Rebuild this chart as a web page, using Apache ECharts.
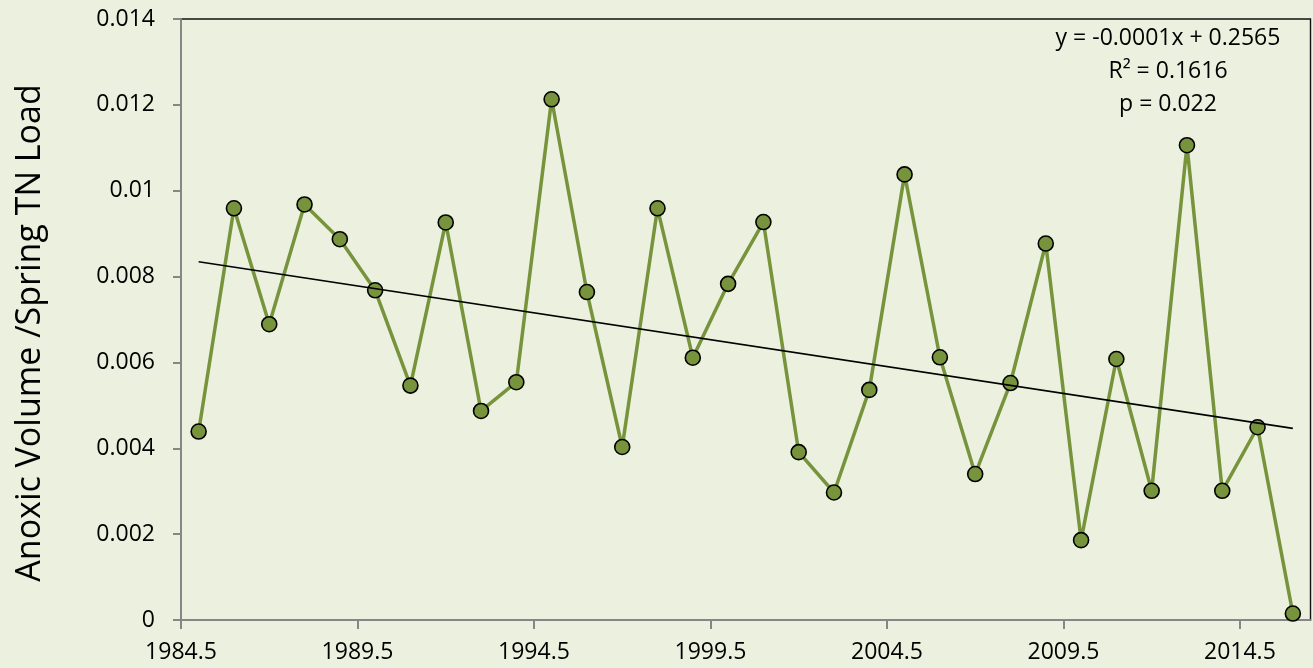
<!DOCTYPE html>
<html>
<head>
<meta charset="utf-8">
<title>Anoxic Volume / Spring TN Load</title>
<script src="https://cdn.jsdelivr.net/npm/echarts@6/dist/echarts.min.js"></script>
<style>
	html, body { margin: 0; padding: 0; background: #EBF1DE; }
	#main { width: 1313px; height: 668px; }
</style>
</head>
<body>
<div id="main"></div>
<script>
// data
var years = [1985, 1986, 1987, 1988, 1989, 1990, 1991, 1992, 1993, 1994,
	1995, 1996, 1997, 1998, 1999, 2000, 2001, 2002, 2003, 2004,
	2005, 2006, 2007, 2008, 2009, 2010, 2011, 2012, 2013, 2014,
	2015, 2016];
var ratio = [0.00439, 0.00959, 0.00689, 0.00968, 0.00887, 0.00768, 0.00546, 0.00926, 0.00487, 0.00554,
	0.01213, 0.00764, 0.00403, 0.00959, 0.00611, 0.00783, 0.00927, 0.00391, 0.00297, 0.00536,
	0.01038, 0.00612, 0.00340, 0.00552, 0.00877, 0.00186, 0.00608, 0.00301, 0.01106, 0.00301,
	0.00449, 0.00015];
var xRange = [1984.5, 2016.5]; // 坐标轴范围
var yRange = [0, 0.014];
var trendText = ['y = -0.0001x + 0.2565', 'R\u00b2 = 0.1616', 'p = 0.022'];

var font = 'Open Sans';

// 线性趋势线
var n = years.length, sx = 0, sy = 0, sxx = 0, sxy = 0;
for (var i = 0; i < n; i++) {
	sx += years[i];
	sy += ratio[i];
	sxx += years[i] * years[i];
	sxy += years[i] * ratio[i];
}
var slope = (n * sxy - sx * sy) / (n * sxx - sx * sx);
var icpt = (sy - slope * sx) / n;
var trendData = [
	[years[0], icpt + slope * years[0]],
	[years[n - 1], icpt + slope * years[n - 1]]
];

var pts = years.map(function(y, i) { return [y, ratio[i]]; });

var myChart = echarts.init(document.getElementById('main'));

var option = {
	backgroundColor: '#EBF1DE',
	animation: false,
	grid: {
		left: 181,
		top: 19,
		right: 2.5,
		bottom: 48,
		show: true,
		backgroundColor: 'transparent',
		borderColor: '#111',
		borderWidth: 1.4
	},
	xAxis: {
		type: 'value',
		min: xRange[0],
		max: xRange[1],
		interval: 5,
		splitLine: { show: false },
		axisLine: { lineStyle: { color: '#868686', width: 2 } },
		axisTick: { show: true, inside: false, length: 9, lineStyle: { color: '#868686', width: 2 } },
		axisLabel: {
			showMaxLabel: false,
			margin: 21,
			color: '#000',
			fontFamily: font,
			fontSize: 23,
			formatter: function(v) { return v.toFixed(1); }
		}
	},
	yAxis: {
		type: 'value',
		min: yRange[0],
		max: yRange[1],
		interval: 0.002,
		splitLine: { show: false },
		axisLine: { show: true, lineStyle: { color: '#868686', width: 2 } },
		axisTick: { show: true, inside: false, length: 8, lineStyle: { color: '#868686', width: 2 } },
		axisLabel: {
			margin: 26,
			color: '#000',
			fontFamily: font,
			fontSize: 23,
			formatter: function(v) { return v === 0 ? '0' : String(+v.toFixed(3)); }
		}
	},
	graphic: [{
		type: 'text',
		x: 30,
		y: 333,
		rotation: Math.PI / 2,
		style: {
			text: 'Anoxic Volume /Spring TN Load',
			fill: '#000',
			font: '34px "Open Sans"',
			textAlign: 'center',
			textVerticalAlign: 'middle'
		}
	}, {
		type: 'text',
		x: 1168,
		y: 22,
		style: {
			text: trendText.join('\n'),
			fill: '#000',
			font: '23px "Open Sans"',
			lineHeight: 33,
			textAlign: 'center',
			textVerticalAlign: 'top'
		}
	}],
	series: [{
		name: 'ratio',
		type: 'line',
		data: pts,
		symbol: 'circle',
		symbolSize: 15,
		lineStyle: { color: '#77933C', width: 3.5 },
		itemStyle: { color: '#77933C', borderColor: '#000', borderWidth: 1.6 },
		z: 2
	}, {
		name: 'trend',
		type: 'line',
		data: trendData,
		symbol: 'none',
		lineStyle: { color: '#000', width: 1.6 },
		z: 5
	}]
};

myChart.setOption(option, true);
window.onresize = function() {
	myChart.resize();
};
</script>
</body>
</html>
